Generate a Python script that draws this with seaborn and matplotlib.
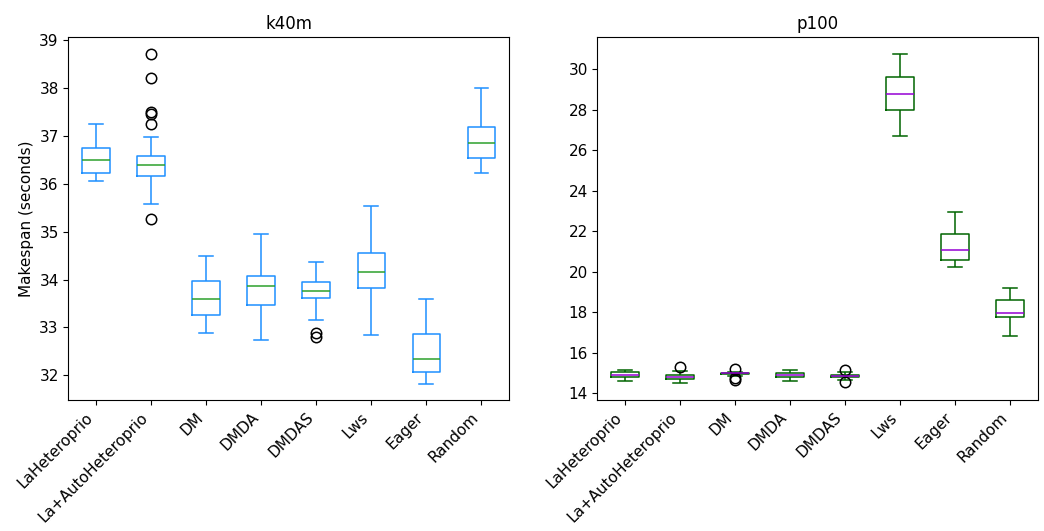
import matplotlib
matplotlib.use("Agg")
import matplotlib.pyplot as plt
import pandas as pd
import seaborn as sns

schedulers = ["LaHeteroprio", "La+AutoHeteroprio", "DM", "DMDA",
              "DMDAS", "Lws", "Eager", "Random"]

# Makespan of each run (seconds) on the K40m node, one list per scheduler
k40m_runs = [
    [36.063, 36.217, 36.495, 36.74, 37.26],
    [35.26, 35.58, 35.84, 35.97, 36.05, 36.11, 36.17, 36.21, 36.26, 36.30,
     36.34, 36.37, 36.40, 36.43, 36.47, 36.50, 36.53, 36.56, 36.585, 36.99,
     37.26, 37.45, 37.50, 38.21, 38.71],
    [32.88, 33.27, 33.59, 33.97, 34.50],
    [32.73, 33.46, 33.86, 34.07, 34.96],
    [32.80, 32.88, 33.16, 33.62, 33.67, 33.72, 33.76, 33.82, 33.89, 33.948,
     34.05, 34.19, 34.37],
    [32.85, 33.82, 34.16, 34.56, 35.54],
    [31.825, 32.07, 32.35, 32.86, 33.60],
    [36.22, 36.55, 36.86, 37.18, 38.00],
]

# Makespan of each run (seconds) on the P100 node, one list per scheduler
p100_runs = [
    [14.62, 14.81, 14.92, 15.04, 15.15],
    [14.50, 14.60, 14.69, 14.75, 14.81, 14.86, 14.92, 15.13, 15.29],
    [14.66, 14.78, 14.88, 14.95, 14.96, 14.98, 14.99, 15.00, 15.02, 15.03,
     15.05, 15.08, 15.22],
    [14.62, 14.81, 14.90, 15.00, 15.15],
    [14.55, 14.68, 14.79, 14.83, 14.86, 14.90, 14.93, 15.06, 15.18],
    [26.71, 28.01, 28.77, 29.62, 30.74],
    [20.22, 20.57, 21.09, 21.85, 22.95],
    [16.83, 17.77, 17.97, 18.59, 19.22],
]


def long_frame(runs):
    rows = [(name, v) for name, vals in zip(schedulers, runs) for v in vals]
    return pd.DataFrame(rows, columns=["scheduler", "makespan"])


fig, (ax1, ax2) = plt.subplots(1, 2, figsize=(10.44, 5.31), dpi=100)
ax1.set_position([0.0656, 0.2467, 0.4219, 0.6836])
ax2.set_position([0.5723, 0.2467, 0.4215, 0.6836])

panels = [
    (ax1, k40m_runs, "k40m", "#1E90FF", "#2ca02c", (31.484, 39.069)),
    (ax2, p100_runs, "p100", "darkgreen", "darkviolet", (13.678, 31.593)),
]

for ax, runs, title, box_color, median_color, ylim in panels:
    sns.boxplot(
        data=long_frame(runs), x="scheduler", y="makespan", order=schedulers,
        ax=ax, width=0.5, fill=False, color=box_color, linewidth=1.1,
        whis=1.5,
        medianprops={"color": median_color, "linewidth": 1.1},
        flierprops={"marker": "o", "markerfacecolor": "none",
                    "markeredgecolor": "black", "markersize": 7.5,
                    "markeredgewidth": 1.1},
    )
    ax.set_title(title, fontsize=12)
    ax.set_xlabel("")
    ax.set_ylabel("")
    ax.set_xlim(-0.5, len(schedulers) - 0.5)
    ax.set_ylim(*ylim)
    ax.set_xticks(range(len(schedulers)))
    ax.set_xticklabels(schedulers, rotation=45, ha="right")
    ax.tick_params(axis="both", labelsize=11)
    for side in ["top", "right", "left", "bottom"]:
        ax.spines[side].set_visible(True)
        ax.spines[side].set_color("black")

ax1.set_ylabel("Makespan (seconds)", fontsize=11)

fig.savefig("out.png", dpi=100)
